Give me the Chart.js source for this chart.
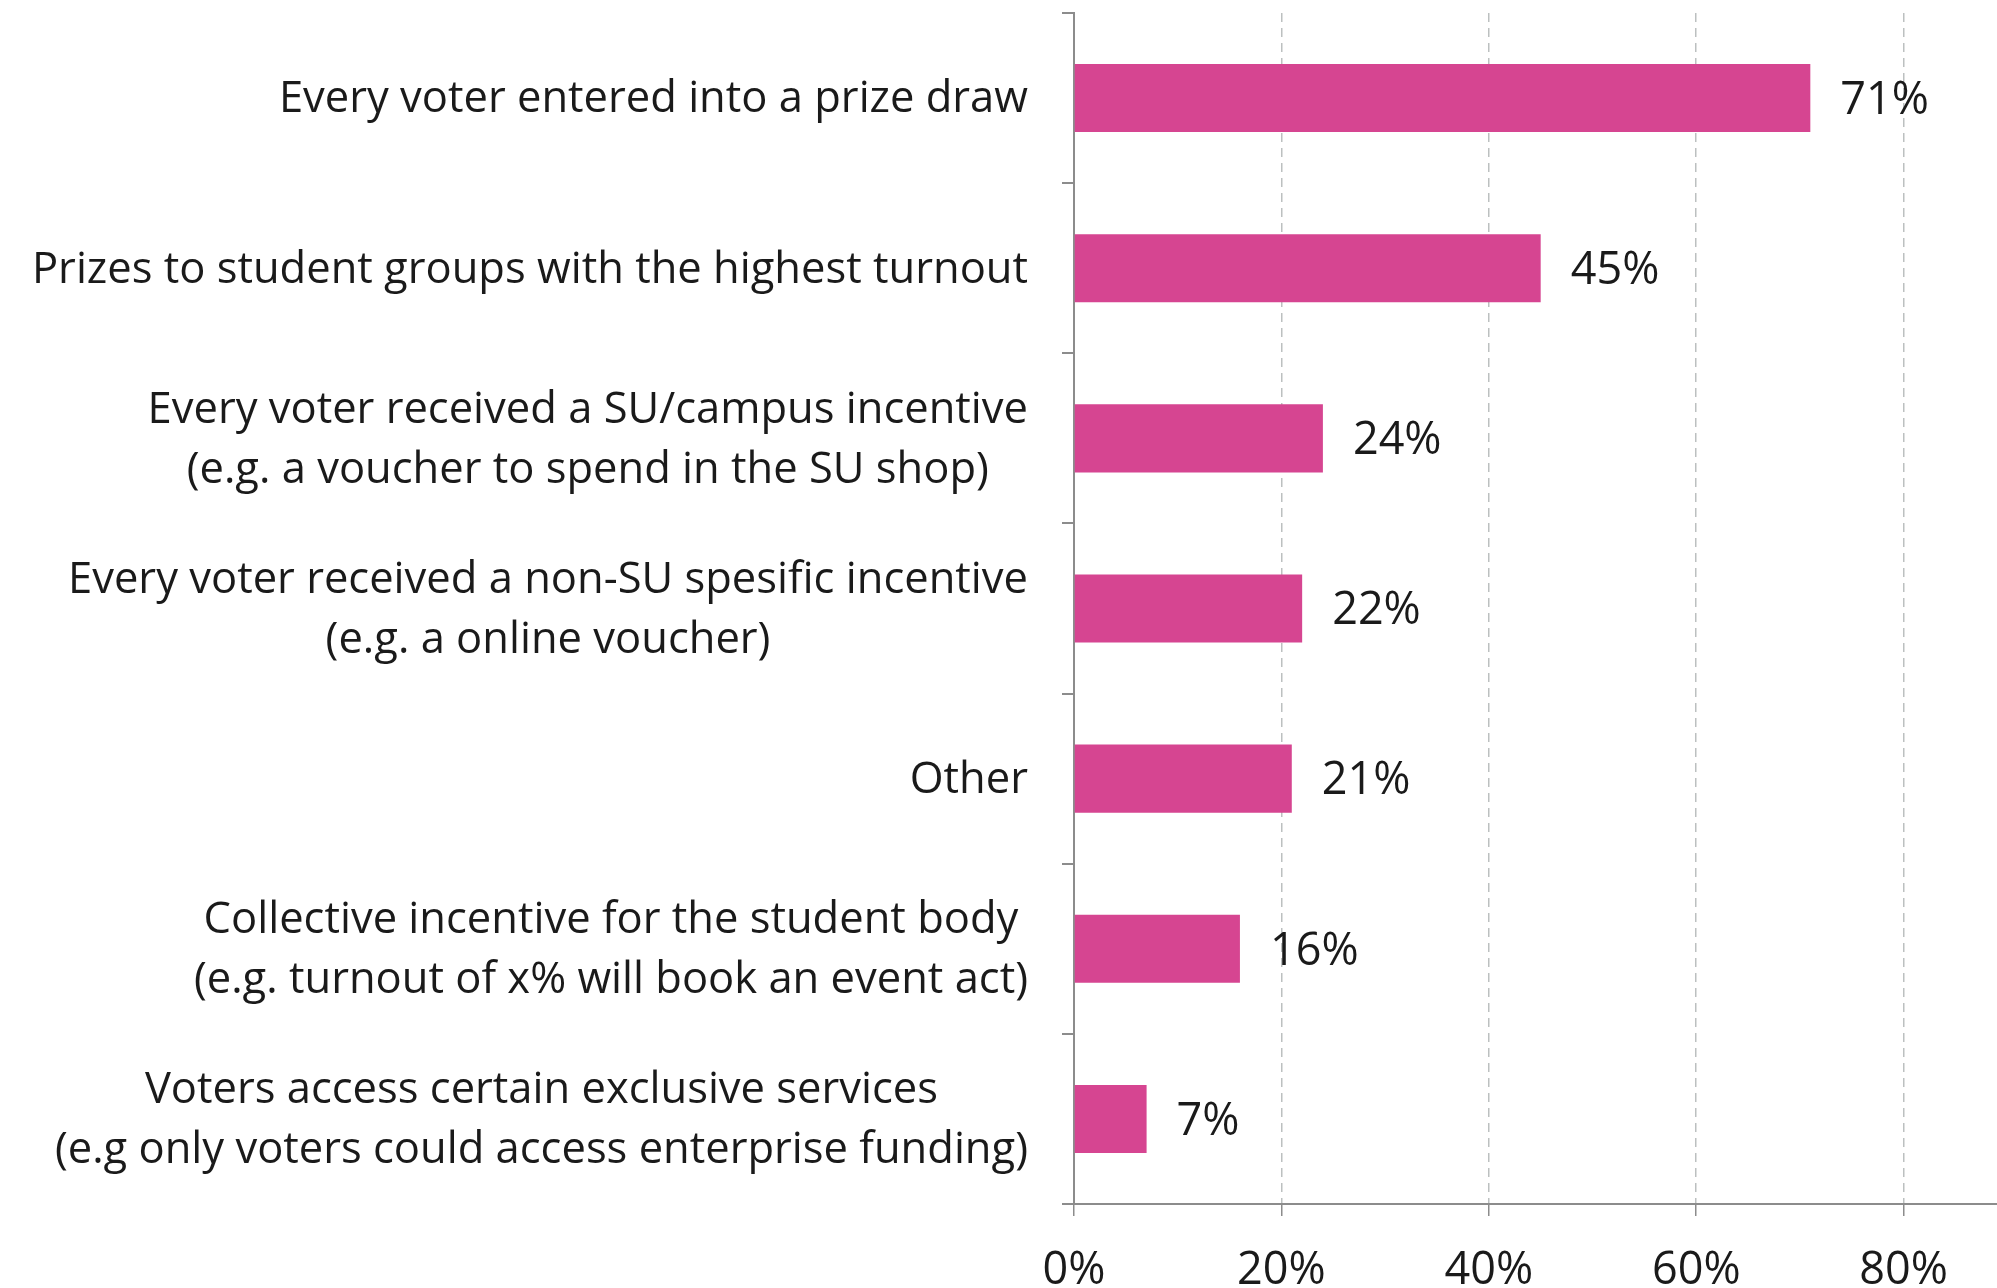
<!DOCTYPE html>
<html>
<head>
<meta charset="utf-8">
<title>Voting incentives</title>
<script src="https://cdn.jsdelivr.net/npm/chart.js@4.4.1/dist/chart.umd.min.js"></script>
<style>
  html, body { margin: 0; padding: 0; background: #fff; }
  canvas { display: block; }
</style>
</head>
<body>
<canvas id="chart" width="1997" height="1288"></canvas>
<script>
const categories = [
    ['Every voter entered into a prize draw'],
    ['Prizes to student groups with the highest turnout'],
    ['Every voter received a SU/campus incentive', '(e.g. a voucher to spend in the SU shop)'],
    ['Every voter received a non-SU spesific incentive', '(e.g. a online voucher)'],
    ['Other'],
    ['Collective incentive for the student body', '(e.g. turnout of x% will book an event act)'],
    ['Voters access certain exclusive services', '(e.g only voters could access enterprise funding)']
]
const shares = [71, 45, 24, 22, 21, 16, 7]
const xTicks = [0, 20, 40, 60, 80]
const xMax = 89

const FONT_FAMILY = '"Open Sans", sans-serif'
const LABEL_SIZE = 43.5
const NUMBER_SIZE = 45
const TEXT_COLOR = '#1a1a1a'
const AXIS_COLOR = '#8c8c8c'
const LABEL_RIGHT = 1028   // right edge of the category label blocks
const LINE_GAP = 60

// category labels: each block right-aligned, lines centred inside the block
const categoryLabels = {
    id: 'categoryLabels',
    afterDraw(chart) {
        const ctx = chart.ctx
        const yScale = chart.scales.y
        ctx.save()
        ctx.font = LABEL_SIZE + 'px ' + FONT_FAMILY
        ctx.fillStyle = TEXT_COLOR
        ctx.textAlign = 'center'
        ctx.textBaseline = 'middle'
        categories.forEach((lines, i) => {
            const y = yScale.getPixelForTick(i) + 2
            const blockWidth = Math.max(...lines.map(l => ctx.measureText(l).width))
            const cx = LABEL_RIGHT - blockWidth / 2
            lines.forEach((line, j) => {
                ctx.fillText(line, cx, y + (j - (lines.length - 1) / 2) * LINE_GAP)
            })
        })
        ctx.restore()
    }
}

// percentage next to the end of each bar
const valueLabels = {
    id: 'valueLabels',
    afterDatasetsDraw(chart) {
        const ctx = chart.ctx
        const meta = chart.getDatasetMeta(0)
        ctx.save()
        ctx.font = NUMBER_SIZE + 'px ' + FONT_FAMILY
        ctx.fillStyle = TEXT_COLOR
        ctx.textAlign = 'left'
        ctx.textBaseline = 'middle'
        meta.data.forEach((bar, i) => {
            ctx.fillText(shares[i] + '%', bar.x + 30, bar.y + 3)
        })
        ctx.restore()
    }
}

new Chart(document.getElementById('chart'), {
    type: 'bar',
    data: {
        labels: categories,
        datasets: [{
            data: shares,
            backgroundColor: '#d64591',
            borderWidth: 0,
            barPercentage: 0.8,
            categoryPercentage: 0.5
        }]
    },
    options: {
        indexAxis: 'y',
        responsive: false,
        animation: false,
        devicePixelRatio: 1,
        layout: { padding: { top: 13, right: 0, bottom: 0, left: 0 } },
        plugins: {
            legend: { display: false },
            tooltip: { enabled: false }
        },
        scales: {
            x: {
                min: 0,
                max: xMax,
                afterBuildTicks: (scale) => { scale.ticks = xTicks.map(v => ({ value: v })) },
                afterFit: (scale) => { scale.height = 84 },
                ticks: {
                    callback: (v) => v + '%',
                    color: TEXT_COLOR,
                    font: { family: FONT_FAMILY, size: NUMBER_SIZE },
                    padding: 28,
                    maxRotation: 0
                },
                grid: {
                    color: (c) => (c.tick && c.tick.value === 0) ? 'rgba(0,0,0,0)' : '#bcc0c0',
                    lineWidth: 1.5,
                    tickColor: AXIS_COLOR,
                    tickLength: 12,
                    tickWidth: 1.5
                },
                border: { color: AXIS_COLOR, width: 2, dash: [9, 6] }
            },
            y: {
                afterFit: (scale) => { scale.width = 1074 },
                ticks: { display: false },
                grid: {
                    drawOnChartArea: false,
                    color: AXIS_COLOR,
                    lineWidth: 2,
                    tickLength: 12
                },
                border: { color: AXIS_COLOR, width: 2 }
            }
        }
    },
    plugins: [categoryLabels, valueLabels]
})
</script>
</body>
</html>
